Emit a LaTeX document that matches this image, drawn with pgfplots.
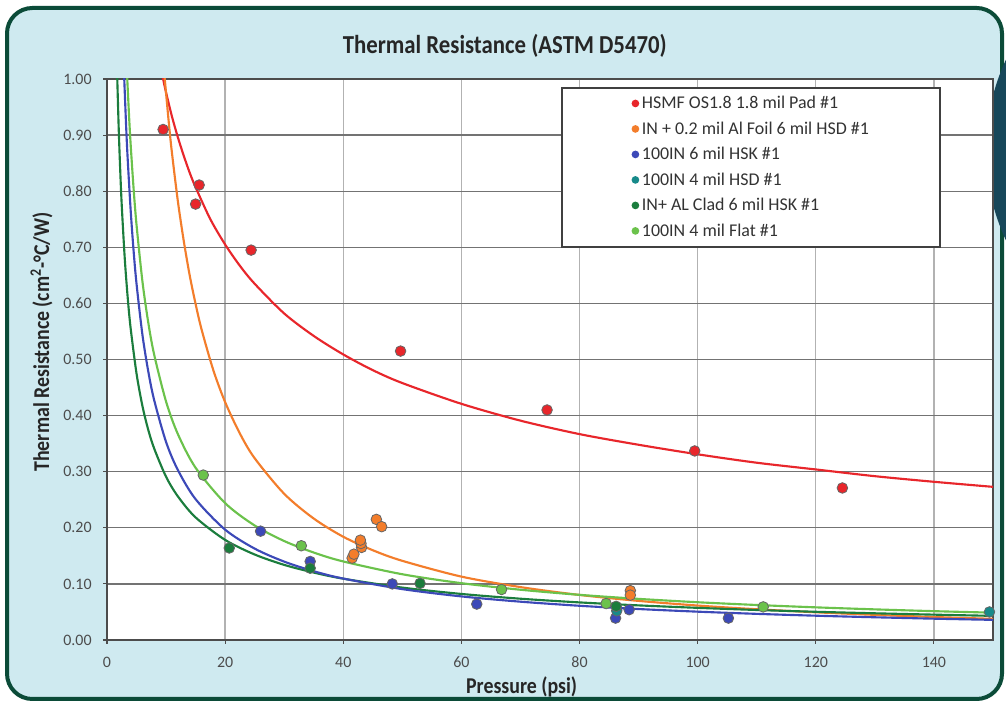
\documentclass[border=0pt]{standalone}
\usepackage{fontspec}
\setmainfont{Carlito}
\newfontfamily\condfont[FakeStretch=0.88]{Carlito}
\usepackage{pgfplots}
\pgfplotsset{compat=1.18}

\definecolor{bgblue}{HTML}{CFEAF0}
\definecolor{framegreen}{HTML}{0B4B38}
\definecolor{blob}{HTML}{17475A}
\definecolor{cRed}{HTML}{E8262B}
\definecolor{cOrange}{HTML}{F37D2B}
\definecolor{cBlue}{HTML}{3C49B8}
\definecolor{cTeal}{HTML}{178A8A}
\definecolor{cDkGreen}{HTML}{1B7D3D}
\definecolor{cLtGreen}{HTML}{6BC24B}

\pgfplotsset{
  pts/.style={only marks, mark=*, mark size=4pt, draw=black!60, line width=0.6pt},
  fit/.style={line width=1.6pt, smooth, forget plot},
}

\begin{document}
\begin{tikzpicture}
\path[use as bounding box] (0,0) rectangle (754.5bp,527.25bp);
\fill[white] (0,0) rectangle (754.5bp,527.25bp);
\begin{scope}[x=0.75bp,y=0.75bp]
  \draw[framegreen, line width=3bp, fill=bgblue, rounded corners=19bp] (7,4) rectangle (1002,695);
  \begin{scope}
    \clip (0,0) rectangle (1006,703);
    \fill[blob] (1200,553) circle (214);
  \end{scope}
\end{scope}

\begin{axis}[
  at={(80.25bp,47.25bp)}, anchor=south west,
  scale only axis, width=664.5bp, height=420.75bp,
  xmin=0, xmax=150, ymin=0, ymax=1,
  xtick={0,20,...,140}, ytick={0,0.1,...,1.0},
  axis background/.style={fill=white},
  xmajorgrids, ymajorgrids,
  x grid style={black!30, line width=1pt},
  y grid style={black!55, line width=1pt},
  axis line style={black!70, line width=1.2pt},
  tick align=outside, xtick pos=bottom, ytick pos=left,
  major tick length=3bp,
  tick style={black!70, line width=0.8pt},
  /pgf/number format/assume math mode=true,
  tick label style={font=\fontsize{12}{14}\selectfont, text=black!70},
  xticklabel style={yshift=-6bp},
  yticklabel style={xshift=-5bp, /pgf/number format/.cd, fixed, fixed zerofill, precision=2},
  title={Thermal Resistance (ASTM D5470)},
  title style={at={(0.449,1.045)}, anchor=center, yshift=0pt,
    font=\condfont\bfseries\fontsize{19.5}{22}\selectfont, text=black!85},
  xlabel={Pressure (psi)},
  xlabel style={at={(axis description cs:0.468,-0.084)}, anchor=center,
    font=\condfont\bfseries\fontsize{17}{19}\selectfont, text=black!85},
  ylabel={Thermal Resistance (cm\textsuperscript{2}-°C/W)},
  ylabel style={at={(axis description cs:-0.0738,0.531)}, anchor=center,
    font=\condfont\bfseries\fontsize{17}{19}\selectfont, text=black!85},
  legend cell align=left,
  legend style={at={(0.5135,0.984)}, anchor=north west, draw=none, fill=none,
    inner xsep=52bp, inner ysep=4bp, row sep=4.3bp,
    font=\fontsize{13.5}{15}\selectfont, text=black!80},
  legend image post style={mark size=2.9pt, draw opacity=0},
]

% legend frame
\draw[black!75, line width=1.2pt, fill=white]
  (rel axis cs:0.5135,0.984) rectangle (rel axis cs:0.940,0.7005);

% trend curves
\addplot[fit, cRed] coordinates {
  (9,1.026) (9.5,1.000) (10,0.976) (11,0.933) (12,0.896) (13,0.863) (14,0.833)
  (15,0.807) (17.5,0.750) (20,0.705) (22.5,0.667) (25,0.635) (30,0.582)
  (35,0.542) (40,0.509) (45,0.481) (50,0.458) (60,0.421) (70,0.391)
  (80,0.367) (90,0.348) (100,0.331) (110,0.316) (120,0.304) (130,0.292)
  (140,0.282) (150,0.273)};
\addplot[fit, cOrange] coordinates {
  (9.5,1.035) (9.78,1.000) (10.5,0.918) (11,0.868) (12,0.782) (13,0.711)
  (14,0.650) (15,0.599) (16,0.554) (18,0.481) (20,0.424) (22.5,0.368)
  (25,0.324) (30,0.2606) (35,0.2165) (40,0.184) (45,0.160) (50,0.1411)
  (60,0.113) (70,0.0943) (80,0.0803) (90,0.0697) (100,0.0614) (110,0.0548)
  (120,0.0494) (130,0.0448) (140,0.0410) (150,0.0377)};
\addplot[fit, cDkGreen] coordinates {
  (1.65,1.038) (1.74,1.000) (2,0.906) (2.25,0.834) (2.5,0.774) (3,0.681)
  (3.5,0.611) (4,0.556) (5,0.475) (6,0.417) (7,0.374) (8,0.341) (10,0.291)
  (12,0.256) (15,0.2185) (20,0.1784) (25,0.1524) (30,0.1339) (35,0.1202)
  (40,0.1093) (50,0.0934) (60,0.0821) (70,0.0736) (80,0.0670) (90,0.0617)
  (100,0.0573) (110,0.0535) (120,0.0503) (130,0.0476) (140,0.0452) (150,0.0430)};
\addplot[fit, cBlue] coordinates {
  (2.8,1.036) (2.92,1.000) (3.25,0.913) (3.5,0.858) (4,0.767) (4.5,0.694)
  (5,0.635) (6,0.544) (7,0.478) (8,0.427) (10,0.353) (12,0.303) (15,0.251)
  (20,0.1967) (25,0.1629) (30,0.1397) (35,0.1226) (40,0.1095) (50,0.0907)
  (60,0.0777) (70,0.0683) (80,0.0610) (90,0.0552) (100,0.0505) (110,0.0466)
  (120,0.0433) (130,0.0405) (140,0.0380) (150,0.0359)};
\addplot[fit, cLtGreen] coordinates {
  (3.3,1.031) (3.43,1.000) (3.75,0.931) (4,0.884) (4.5,0.805) (5,0.740)
  (6,0.639) (7,0.565) (8,0.508) (10,0.425) (12,0.367) (15,0.307) (20,0.244)
  (25,0.2041) (30,0.1764) (35,0.1559) (40,0.140) (50,0.1172) (60,0.1013)
  (70,0.0896) (80,0.0805) (90,0.0733) (100,0.0673) (110,0.0624) (120,0.0582)
  (130,0.0546) (140,0.0514) (150,0.0487)};

% measured points
\addplot[pts, fill=cRed] coordinates {
  (9.5,0.910) (15.6,0.811) (15.0,0.777) (24.4,0.695) (49.7,0.515)
  (74.5,0.410) (99.5,0.337) (124.5,0.271)};
\addlegendentry{HSMF OS1.8 1.8 mil Pad \#1}
\addplot[pts, fill=cOrange] coordinates {
  (41.5,0.146) (41.8,0.153) (43.1,0.165) (43.0,0.172) (42.9,0.178)
  (45.6,0.215) (46.5,0.202) (88.6,0.088) (88.6,0.080)};
\addlegendentry{IN + 0.2 mil Al Foil 6 mil HSD \#1}
\addplot[pts, fill=cBlue] coordinates {
  (26.0,0.194) (34.4,0.140) (48.3,0.100) (62.6,0.064) (86.1,0.039)
  (88.4,0.054) (105.2,0.039)};
\addlegendentry{100IN 6 mil HSK \#1}
\addplot[pts, fill=cTeal] coordinates {
  (86.3,0.052) (149.4,0.050)};
\addlegendentry{100IN 4 mil HSD \#1}
\addplot[pts, fill=cDkGreen] coordinates {
  (20.7,0.164) (34.4,0.128) (53.0,0.101) (86.2,0.060)};
\addlegendentry{IN+ AL Clad 6 mil HSK \#1}
\addplot[pts, fill=cLtGreen] coordinates {
  (16.3,0.294) (32.9,0.168) (66.8,0.090) (84.5,0.065) (111.1,0.059)};
\addlegendentry{100IN 4 mil Flat \#1}
\end{axis}
\end{tikzpicture}
\end{document}
